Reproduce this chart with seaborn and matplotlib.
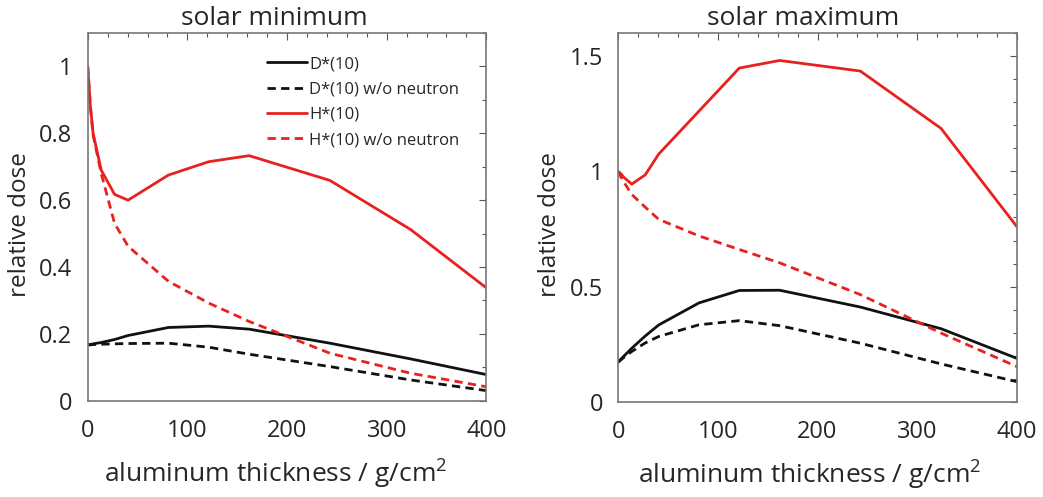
import numpy as np
import pandas as pd
import matplotlib
matplotlib.use("Agg")
import matplotlib.pyplot as plt
from matplotlib.ticker import MultipleLocator
import seaborn as sns

# aluminum thickness in g/cm^2 (0,1,2,5,10,15,30,45,60,90,120,150 cm x 2.7 g/cm^3)
thickness = [0, 2.7, 5.4, 13.5, 27, 40.5, 81, 121.5, 162, 243, 324, 405]

series_names = ["D*(10)", "D*(10) w/o neutron", "H*(10)", "H*(10) w/o neutron"]

# solar minimum
min_D = [0.167, 0.168, 0.170, 0.174, 0.183, 0.195, 0.219, 0.223, 0.214, 0.172, 0.125, 0.075]
min_D_non = [0.167, 0.167, 0.168, 0.169, 0.170, 0.171, 0.172, 0.160, 0.139, 0.102, 0.062, 0.028]
min_H = [1.0, 0.88, 0.80, 0.69, 0.617, 0.60, 0.675, 0.715, 0.733, 0.659, 0.512, 0.326]
min_H_non = [1.0, 0.88, 0.795, 0.68, 0.53, 0.462, 0.357, 0.292, 0.237, 0.142, 0.082, 0.039]

# solar maximum
max_D = [0.172, 0.185, 0.197, 0.232, 0.285, 0.333, 0.429, 0.483, 0.484, 0.411, 0.317, 0.180]
max_D_non = [0.172, 0.182, 0.192, 0.218, 0.255, 0.283, 0.334, 0.352, 0.330, 0.254, 0.164, 0.082]
max_H = [1.0, 0.99, 0.975, 0.945, 0.985, 1.075, 1.262, 1.449, 1.482, 1.436, 1.187, 0.733]
max_H_non = [1.0, 0.975, 0.955, 0.90, 0.845, 0.792, 0.720, 0.661, 0.603, 0.465, 0.298, 0.143]

titles = ["solar minimum", "solar maximum"]
xlabel = "aluminum thickness / g/cm$^2$"
ylabel = "relative dose"

def make_df(vals):
    rows = []
    for name, v in zip(series_names, vals):
        for x, y in zip(thickness, v):
            rows.append({"thickness": x, "dose": y, "series": name})
    return pd.DataFrame(rows)

df_min = make_df([min_D, min_D_non, min_H, min_H_non])
df_max = make_df([max_D, max_D_non, max_H, max_H_non])

sns.set_style("white")
plt.rcParams["font.family"] = ["Open Sans", "DejaVu Sans"]
plt.rcParams["mathtext.fontset"] = "custom"
plt.rcParams["mathtext.rm"] = "Open Sans"

palette = {"D*(10)": "#111111", "D*(10) w/o neutron": "#111111",
           "H*(10)": "#e8211f", "H*(10) w/o neutron": "#e8211f"}
dashes = {"D*(10)": "", "D*(10) w/o neutron": (3.0, 1.9),
          "H*(10)": "", "H*(10) w/o neutron": (3.0, 1.9)}

fig = plt.figure(figsize=(10.43, 4.97), dpi=100)
ax1 = fig.add_axes([0.0841, 0.1938, 0.3822, 0.7398])
ax2 = fig.add_axes([0.5928, 0.1918, 0.3820, 0.7412])

layout = [(ax1, df_min, titles[0], 0.469, 0.472, -0.14),
          (ax2, df_max, titles[1], 0.464, 0.481, -0.142)]

for ax, df, title, tx, xlx, ylx in layout:
    sns.lineplot(data=df, x="thickness", y="dose", hue="series", style="series",
                 palette=palette, dashes=dashes, linewidth=2.0, ax=ax,
                 legend=(ax is ax1), sort=False)
    ax.set_xlim(0, 400)
    ax.xaxis.set_major_locator(MultipleLocator(100))
    ax.xaxis.set_minor_locator(MultipleLocator(20))
    ax.yaxis.set_minor_locator(MultipleLocator(0.1))
    ax.tick_params(which="both", direction="in", top=True, right=True,
                   color="#555555")
    ax.tick_params(which="major", length=5, width=0.8, labelsize=17, pad=11)
    ax.tick_params(which="minor", length=3, width=0.8)
    ax.tick_params(axis="x", which="major", pad=13)
    for s in ax.spines.values():
        s.set_color("#777777")
        s.set_linewidth(1.2)
    ax.set_xlabel(xlabel, fontsize=19)
    ax.set_ylabel(ylabel, fontsize=17.5)
    ax.xaxis.set_label_coords(xlx, -0.151)
    ax.yaxis.set_label_coords(ylx, 0.48)
    ax.set_title(title, fontsize=19, x=tx, pad=6)
    ax.yaxis.set_major_formatter(plt.FuncFormatter(lambda v, p: f"{v:g}"))
    ax.xaxis.set_major_formatter(plt.FuncFormatter(lambda v, p: f"{v:g}"))

ax1.set_ylim(0, 1.1)
ax1.yaxis.set_major_locator(MultipleLocator(0.2))
ax2.set_ylim(0, 1.6)
ax2.yaxis.set_major_locator(MultipleLocator(0.5))

handles, labels = ax1.get_legend_handles_labels()
ax1.legend(handles, labels, loc="upper left", bbox_to_anchor=(0.449, 0.937),
           frameon=False, fontsize=12, handlelength=2.4, handletextpad=0.15,
           labelspacing=0.56, borderpad=0, borderaxespad=0)

fig.savefig("out.png", dpi=100)
